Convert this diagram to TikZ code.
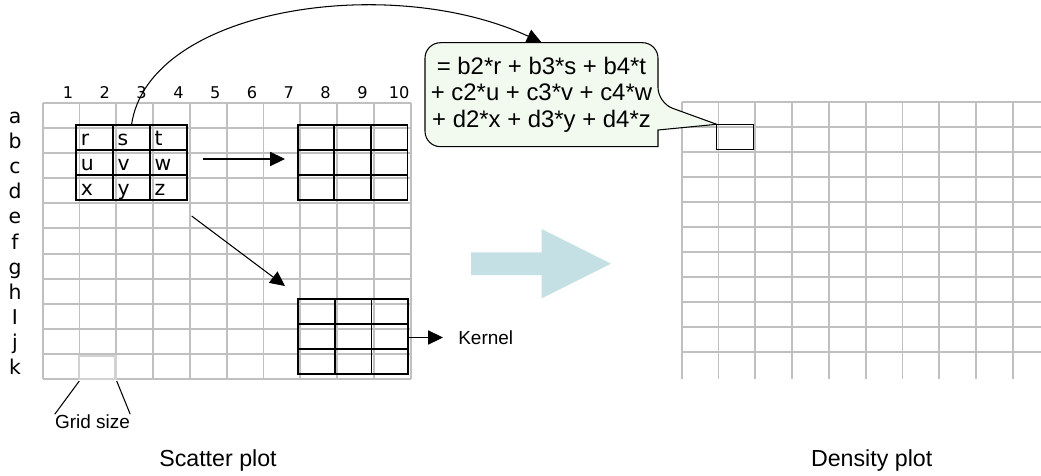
\documentclass[tikz,border=0pt]{standalone}
\usepackage{fontspec}
\setmainfont{Liberation Sans}
\newfontfamily\labelfont{DejaVu Sans}
\usetikzlibrary{arrows.meta}
\definecolor{gridgray}{RGB}{192,192,192}
\definecolor{calloutfill}{RGB}{242,250,240}
\definecolor{bigarrow}{RGB}{197,224,229}
\tikzset{
  gridline/.style={draw=gridgray,line width=1.4pt},
  kernelline/.style={draw=black,line width=1.4pt},
  pointer/.style={-{Triangle[length=10.5pt,width=10pt]},line width=0.75pt},
  rowlabel/.style={font=\labelfont\fontsize{14.5}{14.5}\selectfont,anchor=base,inner sep=0pt},
  collabel/.style={font=\labelfont\fontsize{11.5}{11.5}\selectfont,anchor=base,inner sep=0pt},
  celltext/.style={font=\labelfont\fontsize{14.5}{14.5}\selectfont,anchor=base west,inner sep=0pt},
  caption/.style={font=\fontsize{16.5}{16.5}\selectfont},
  note/.style={font=\fontsize{13.5}{13.5}\selectfont,inner sep=0pt},
}

\begin{document}
\begin{tikzpicture}[x=0.025cm,y=-0.025cm]
\useasboundingbox (0,0) rectangle (1041,475);

% scatter plot grid
\foreach \i in {0,...,10}
  \draw[gridline] ({42.7+36.8*\i},102.7) -- ({42.7+36.8*\i},379.3);
\foreach \j in {0,...,11}
  \draw[gridline] (42.7,{102.7+25.15*\j}) -- (410.7,{102.7+25.15*\j});
\foreach \n in {1,...,10}
  \node[collabel] (col\n) at ({68+36.8*(\n-1)},98.3) {\n};
\foreach \r [count=\j from 0] in {a,b,c,d,e,f,g,h,I,j,k}
  \node[rowlabel] (row\r) at (15,{123.3+25.15*\j}) {\r};

% kernel on the data
\foreach \c [count=\k from 0] in {r,s,t,u,v,w,x,y,z} {
  \pgfmathsetmacro\cx{76+36.9*mod(\k,3)}
  \pgfmathsetmacro\cy{125+25*int(\k/3)}
  \draw[kernelline] (\cx,\cy) rectangle +(36.9,25);
  \node[celltext] (\c) at (\cx+4.5,\cy+20) {\c};
}
\coordinate (s top) at (131.5,125);

% kernel moved right
\foreach \i in {0,1,2}
  \foreach \j in {0,1,2}
    \draw[kernelline] ({297.7+36.6*\i},{125+25*\j}) rectangle +(36.6,25);

% kernel moved down
\foreach \i in {0,1,2}
  \foreach \j in {0,1,2}
    \draw[kernelline] ({297.7+36.9*\i},{299.3+25*\j}) rectangle +(36.9,25);

\coordinate (move right start) at (203,159);
\coordinate (move right end) at (285,159);
\draw[pointer] (move right start) -- (move right end);
\coordinate (move down start) at (191.7,216);
\coordinate (move down end) at (285,286);
\draw[pointer] (move down start) -- (move down end);

\coordinate (kernel east) at (408.3,337.5);
\node[note,anchor=west,inner xsep=10.7pt] (kernel) at (443,337.5) {Kernel};
\draw[pointer] (kernel east) -- (kernel.west);

% grid size
\draw[draw=gray!35,line width=1.6pt] (79.3,356) rectangle (115.6,379.3);
\node[note] (grid size) at (92.5,421.5) {Grid size};
\coordinate (cell left) at (79.3,381);
\coordinate (cell right) at (116.7,381);
\draw[line width=0.75pt] (cell left) -- (grid size.north west);
\draw[line width=0.75pt] (cell right) -- (grid size.north east);

\node[caption] (scatter) at (218,460) {Scatter plot};

% big arrow
\fill[bigarrow] (471,252.3) -- (541.7,252.3) -- (541.7,229) -- (611,263.7)
  -- (541.7,298.3) -- (541.7,275) -- (471,275) -- cycle;

% density plot grid
\foreach \i in {0,...,9}
  \draw[gridline] ({681.7+36.8*\i},101.7) -- ({681.7+36.8*\i},379);
\foreach \j in {0,...,10}
  \draw[gridline] (681.7,{101.7+25*\j}) -- (1041,{101.7+25*\j});
\draw[line width=1.1pt] (716.7,124.3) rectangle (753.3,149.3);
\coordinate (target) at (716.7,124.3);

\node[caption] (density) at (871.7,460) {Density plot};

% callout with the sum
\filldraw[fill=calloutfill,line width=0.75pt] (541.5,42.7) [rounded corners=11pt] -- (658,42.7)
  -- (658,103) [sharp corners] -- (target) -- (658,130) -- (658,146.7)
  [rounded corners=11pt] -- (425,146.7) -- (425,42.7) -- cycle;
\node[minimum width=5.825cm,minimum height=2.6cm,align=center,
  font=\fontsize{17}{18.9}\selectfont] (formula) at (541.5,94.7)
  {= b2*r + b3*s + b4*t\\+ c2*u + c3*v + c4*w\\+ d2*x + d3*y + d4*z};

\draw[pointer] (s top) .. controls (148,8) and (390,-28) .. (formula.north);
\end{tikzpicture}
\end{document}
